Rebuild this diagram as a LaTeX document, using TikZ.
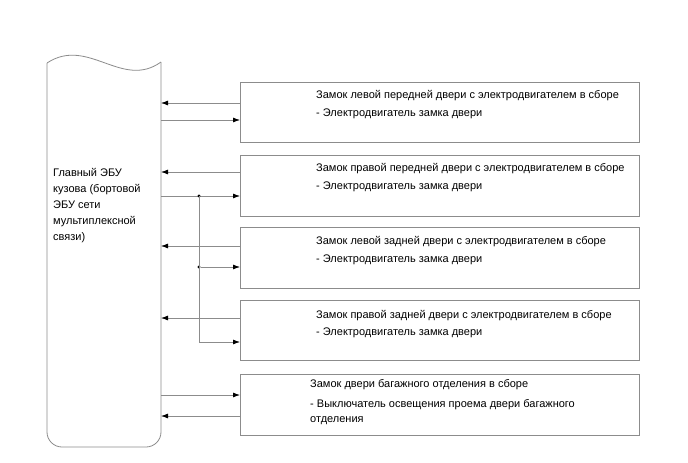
\documentclass[tikz,border=0pt]{standalone}
\usepackage{fontspec}
\setmainfont{Liberation Sans}
\usetikzlibrary{arrows.meta, positioning}

\tikzset{
  wire/.style={draw=black!45, line width=0.8pt},
  arr/.style={wire, -{Latex[black, length=7pt, width=5pt]}},
  doorbox/.style={draw=black!45, line width=0.8pt, minimum width=399pt,
    minimum height=60pt, anchor=north west, inner sep=0pt},
  lbl/.style={anchor=west, inner sep=0pt, font=\fontsize{11}{15}\selectfont, align=left},
  joint/.style={circle, fill=black, inner sep=0pt, minimum size=3.2pt},
}

\begin{document}
\begin{tikzpicture}[x=1pt, y=-1pt]
  \useasboundingbox[fill=white] (0,0) rectangle (688,463);

  % main body ECU: wavy top, rounded bottom
  \draw[wire] (47,63) .. controls (88,36) and (122,90) .. (161,62);
  \draw[wire, rounded corners=15pt] (161,62) -- (161,447) -- (47,447) -- (47,63);
  \node[lbl, font=\fontsize{11}{16}\selectfont] (ecu) at (53,205.5)
    {Главный ЭБУ\\кузова (бортовой\\ЭБУ сети\\мультиплексной\\связи)};

  % door lock boxes
  \node[doorbox] (d1) at (240,82) {};
  \node[doorbox, minimum height=61pt] (d2) at (240,155) {};
  \node[doorbox, minimum height=61pt] (d3) at (240,227) {};
  \node[doorbox] (d4) at (240,300) {};
  \node[doorbox, minimum height=61pt] (d5) at (240,374) {};

  \node[lbl] (t1) at ([shift={(76pt,-14pt)}]d1.north west)
    {Замок левой передней двери с электродвигателем в сборе};
  \node[lbl] (m1) at ([shift={(76pt,-32pt)}]d1.north west)
    {- Электродвигатель замка двери};
  \node[lbl] (t2) at ([shift={(76pt,-14pt)}]d2.north west)
    {Замок правой передней двери с электродвигателем в сборе};
  \node[lbl] (m2) at ([shift={(76pt,-32pt)}]d2.north west)
    {- Электродвигатель замка двери};
  \node[lbl] (t3) at ([shift={(76pt,-15pt)}]d3.north west)
    {Замок левой задней двери с электродвигателем в сборе};
  \node[lbl] (m3) at ([shift={(76pt,-33pt)}]d3.north west)
    {- Электродвигатель замка двери};
  \node[lbl] (t4) at ([shift={(76pt,-16pt)}]d4.north west)
    {Замок правой задней двери с электродвигателем в сборе};
  \node[lbl] (m4) at ([shift={(76pt,-33pt)}]d4.north west)
    {- Электродвигатель замка двери};
  \node[lbl] (t5) at ([shift={(70pt,-11pt)}]d5.north west)
    {Замок двери багажного отделения в сборе};
  \node[lbl, anchor=north west] (m5) at ([shift={(70pt,-25pt)}]d5.north west)
    {- Выключатель освещения проема двери багажного\\отделения};

  % points on the ECU edge
  \coordinate (e1) at (161,103);
  \coordinate (e2) at (161,120);
  \coordinate (e3) at (161,172);
  \coordinate (e4) at (161,196);
  \coordinate (e5) at (161,246);
  \coordinate (e6) at (161,318);
  \coordinate (e7) at (161,395);
  \coordinate (e8) at (161,416);

  % signals
  \draw[arr] (d1.west |- e1) -- (e1);
  \draw[arr] (e2) -- (d1.west |- e2);
  \draw[arr] (d2.west |- e3) -- (e3);
  \draw[arr] (e4) -- (d2.west |- e4);
  \draw[arr] (d3.west |- e5) -- (e5);
  \draw[arr] (d4.west |- e6) -- (e6);
  \draw[arr] (e7) -- (d5.west |- e7);
  \draw[arr] (d5.west |- e8) -- (e8);

  % branch to the rear doors
  \node[joint] (j1) at (199,196) {};
  \node[joint] (j2) at (199,267) {};
  \draw[arr] (j2) -- (d3.west |- j2);
  \draw[arr] (j1.center) -- (199,342) -- (d4.west |- 0,342);
\end{tikzpicture}
\end{document}
